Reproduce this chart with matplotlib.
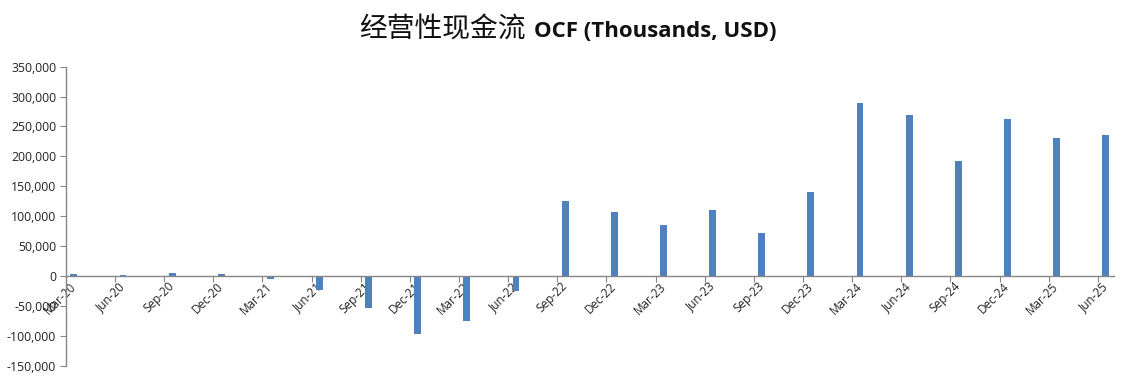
import matplotlib
matplotlib.use("Agg")
import matplotlib.pyplot as plt
import matplotlib.transforms as mtransforms
from matplotlib.offsetbox import TextArea, HPacker, AnchoredOffsetbox
from matplotlib.ticker import FuncFormatter, MultipleLocator

quarters = ["Mar-20", "Jun-20", "Sep-20", "Dec-20", "Mar-21", "Jun-21", "Sep-21", "Dec-21",
            "Mar-22", "Jun-22", "Sep-22", "Dec-22", "Mar-23", "Jun-23", "Sep-23", "Dec-23",
            "Mar-24", "Jun-24", "Sep-24", "Dec-24", "Mar-25", "Jun-25"]
ocf = [3500, 1500, 5500, 3500, -5500, -23500, -53000, -96500,
       -75000, -24500, 125500, 107000, 85000, 110500, 72000, 140500,
       289000, 269000, 192000, 262500, 231000, 236000]

bar_color = "#4F81BD"
axis_color = "#868686"

fig = plt.figure(figsize=(11.35, 3.81), dpi=100)
ax = fig.add_axes([0.0581, 0.040, 0.9234, 0.785])

pos = list(range(len(quarters)))
bar_pos = [p + 0.16 for p in pos]
ax.bar(bar_pos, ocf, width=0.14, color=bar_color, zorder=2)

ax.set_xlim(0, len(quarters) - 1 + 0.33)
ax.set_ylim(-150000, 350000)
ax.yaxis.set_major_locator(MultipleLocator(50000))
ax.yaxis.set_major_formatter(FuncFormatter(lambda v, p: f"{int(v):,}"))

for s in ["top", "right"]:
    ax.spines[s].set_visible(False)
ax.spines["left"].set_color(axis_color)
ax.spines["bottom"].set_color(axis_color)
ax.spines["left"].set_linewidth(1.0)
ax.spines["bottom"].set_linewidth(1.0)
ax.spines["bottom"].set_position(("data", 0))

tick_font = "Open Sans"
ax.tick_params(axis="y", direction="out", length=4, color=axis_color, labelsize=8.8,
               labelcolor="#222222", pad=3)
ax.tick_params(axis="x", direction="out", length=4, color=axis_color, labelsize=8.5,
               labelcolor="#222222", pad=2)
for lab in ax.get_yticklabels():
    lab.set_fontfamily(tick_font)

ax.set_xticks(pos)
ax.set_xticklabels(quarters, rotation=45, ha="right", va="center",
                   rotation_mode="anchor", fontfamily=tick_font)
offset = mtransforms.ScaledTranslation(8 / 100, 0, fig.dpi_scale_trans)
for lab in ax.get_xticklabels():
    lab.set_transform(lab.get_transform() + offset)

# Title: Chinese part regular, English part bold
t1 = TextArea("经营性现金流", textprops=dict(fontfamily="Noto Sans CJK SC", fontsize=20,
                                          color="#111111"))
t2 = TextArea("OCF (Thousands, USD)", textprops=dict(fontfamily="Open Sans", fontsize=16,
                                                  fontweight="bold", color="#111111"))
box = HPacker(children=[t1, t2], align="baseline", pad=0, sep=6)
anchored = AnchoredOffsetbox(loc="center", child=box, frameon=False,
                             bbox_to_anchor=(568 / 1135, 1 - 29 / 381),
                             bbox_transform=fig.transFigure, borderpad=0, pad=0)
fig.add_artist(anchored)

fig.savefig("out.png", dpi=100, facecolor="white")
